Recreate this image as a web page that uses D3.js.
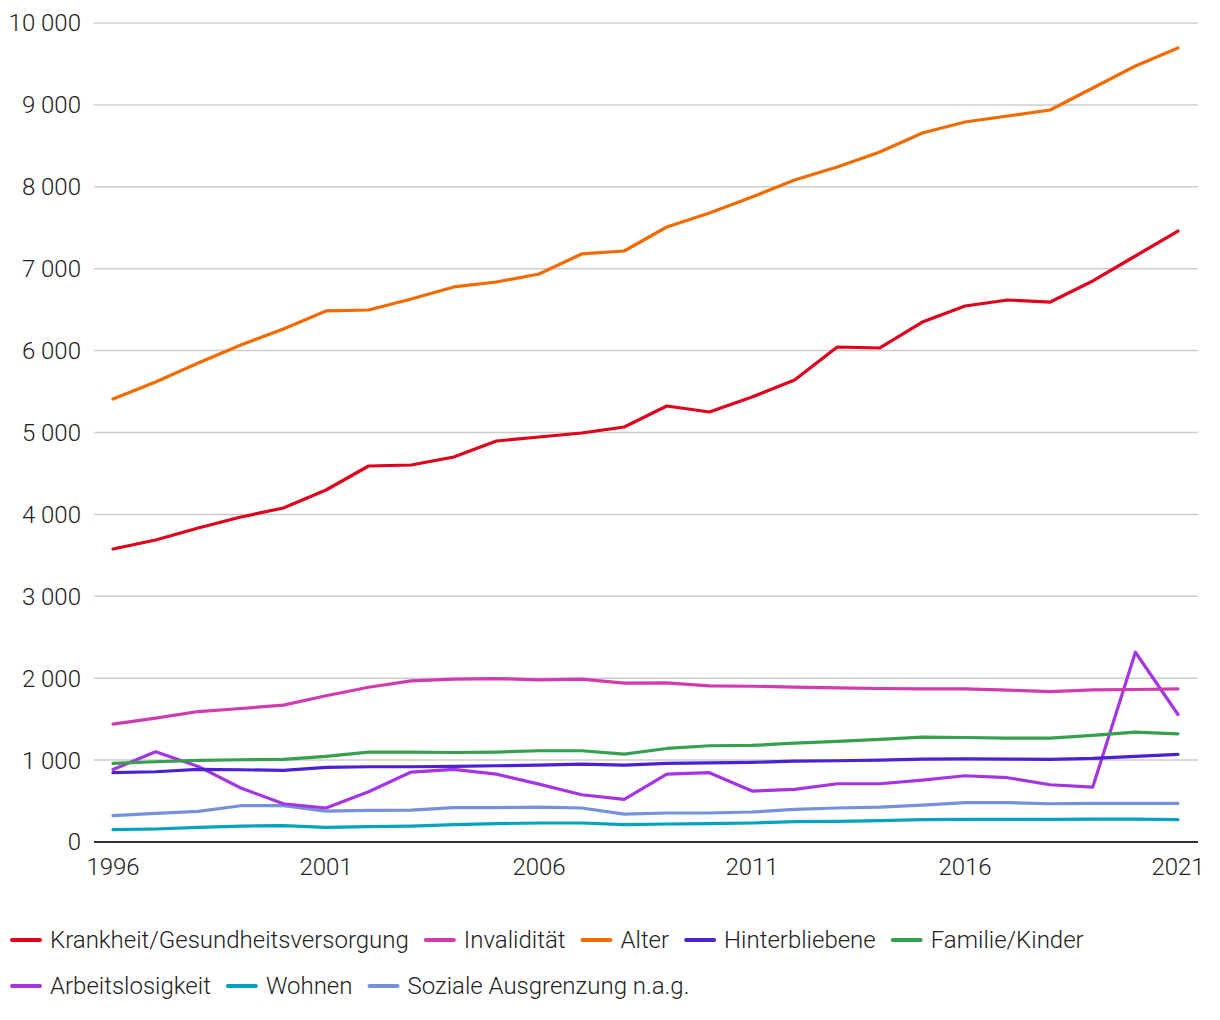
<!DOCTYPE html>
<html><head><meta charset="utf-8">
<script src="https://cdn.jsdelivr.net/npm/d3@7"></script>
<style>
body{margin:0;background:#fff;}
svg text{font-family:Roboto,"Noto Sans",sans-serif;font-weight:300;fill:#222;}
</style></head><body>
<svg id="c" width="1220" height="1020"></svg>
<script>
const years = d3.range(1996, 2022);
const yTicks = [0,1000,2000,3000,4000,5000,6000,7000,8000,9000,10000];
const xTicks = [1996,2001,2006,2011,2016,2021];
const seriesNames = ["Krankheit/Gesundheitsversorgung","Invalidität","Alter","Hinterbliebene","Familie/Kinder","Arbeitslosigkeit","Wohnen","Soziale Ausgrenzung n.a.g."];
const seriesColors = ["#e0001b","#d03cae","#f26b00","#4a22d1","#37a04f","#a535e3","#00a3bd","#7491db"];

const krankheit = [3578,3687,3834,3968,4078,4298,4591,4603,4701,4896,4945,4994,5067,5324,5250,5433,5641,6044,6032,6349,6545,6618,6593,6850,7155,7460];
const invaliditaet = [1439,1512,1593,1630,1671,1785,1890,1967,1988,1996,1980,1988,1941,1943,1906,1902,1890,1882,1874,1870,1870,1854,1837,1858,1862,1870];
const alter = [5409,5617,5849,6068,6264,6484,6496,6630,6777,6838,6935,7180,7216,7509,7680,7875,8083,8242,8425,8657,8791,8864,8938,9206,9475,9695];
const hinterbliebene = [846,858,886,882,874,911,919,919,923,931,939,951,939,959,967,972,988,992,1000,1012,1016,1012,1008,1020,1045,1069];
const familie = [959,980,996,1004,1008,1045,1098,1098,1093,1098,1114,1114,1073,1142,1175,1179,1207,1228,1252,1280,1276,1268,1268,1301,1341,1321];
const arbeitslosigkeit = [886,1102,923,659,467,415,614,854,886,829,707,577,520,829,846,622,642,711,711,756,809,785,699,671,2317,1557];
const wohnen = [150,159,179,195,199,179,187,195,211,224,232,232,211,220,224,232,248,252,260,272,276,276,276,280,280,272];
const sozial = [321,350,374,443,443,378,386,390,419,419,427,415,341,354,354,366,398,415,427,451,480,480,467,472,472,472];

const seriesValues = [krankheit,invaliditaet,alter,hinterbliebene,familie,arbeitslosigkeit,wohnen,sozial];

const svg = d3.select("#c");
const x = d3.scaleLinear().domain([1996,2021]).range([113,1178]);
const y = d3.scaleLinear().domain([0,10000]).range([842,23]);
const fmt = v => d3.format(",")(v).replace(/,/g," ");

// grid
svg.append("g").selectAll("line").data(yTicks.filter(t=>t>0)).join("line")
  .attr("x1",94).attr("x2",1198).attr("y1",d=>y(d)).attr("y2",d=>y(d))
  .attr("stroke","#cccccc").attr("stroke-width",1.5);

// y labels
svg.append("g").selectAll("text").data(yTicks).join("text")
  .attr("x",81).attr("y",d=>y(d)).attr("dy","0.35em").attr("text-anchor","end")
  .attr("font-size",24).text(fmt);

// x labels
svg.append("g").selectAll("text").data(xTicks).join("text")
  .attr("x",d=>x(d)).attr("y",867).attr("dy","0.35em").attr("text-anchor","middle")
  .attr("font-size",24).text(d=>d);

const line = d3.line().x((d,i)=>x(years[i])).y(d=>y(d));
const order = [6,7,5,3,4,1,0,2];
order.forEach(k=>{
  svg.append("path").datum(seriesValues[k]).attr("d",line)
    .attr("fill","none").attr("stroke",seriesColors[k]).attr("stroke-width",3.2)
    .attr("stroke-linejoin","round").attr("stroke-linecap","round");
});

// axis line
svg.append("line").attr("x1",94).attr("x2",1198).attr("y1",y(0)).attr("y2",y(0))
  .attr("stroke","#333").attr("stroke-width",2);

// legend
const rows = [[0,1,2,3,4],[5,6,7]];
const rowY = [940,986];
rows.forEach((r,ri)=>{
  let cx = 12;
  r.forEach(k=>{
    const g = svg.append("g");
    g.append("line").attr("x1",cx).attr("x2",cx+28).attr("y1",rowY[ri]).attr("y2",rowY[ri])
      .attr("stroke",seriesColors[k]).attr("stroke-width",4).attr("stroke-linecap","round");
    const t = g.append("text").attr("x",cx+38).attr("y",rowY[ri]).attr("dy","0.35em")
      .attr("font-size",24).text(seriesNames[k]);
    cx += 38 + t.node().getComputedTextLength() + 17;
  });
});
</script></body></html>
